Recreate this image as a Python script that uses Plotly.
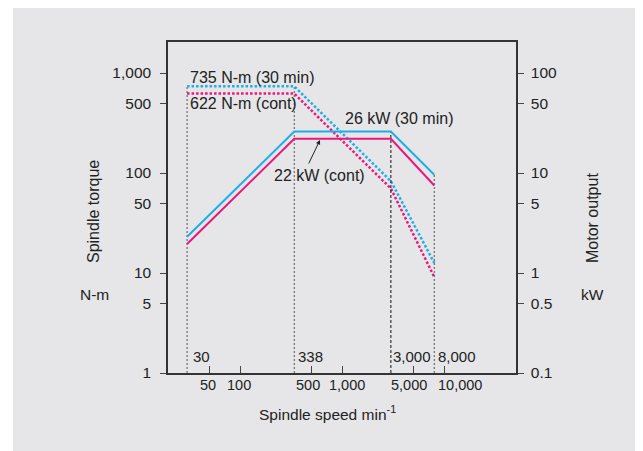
import math
import plotly.graph_objects as go

# ---- data ----
speed = [30, 338, 3000, 8000]
torque_30min = [735, 735, 83, 12.6]
torque_cont = [622, 622, 70, 9.1]
power_30min = [2.3, 26, 26, 9.6]
power_cont = [1.95, 22, 22, 7.5]

x_tickvals = [50, 100, 500, 1000, 5000, 10000]
x_ticktext = ["50", "100", "500", "1,000", "5,000", "10,000"]
yl_tickvals = [1, 5, 10, 50, 100, 500, 1000]
yl_ticktext = ["1", "5", "10", "50", "100", "500", "1,000"]
yr_tickvals = [0.1, 0.5, 1, 5, 10, 50, 100]
yr_ticktext = ["0.1", "0.5", "1", "5", "10", "50", "100"]
speed_labels = ["30", "338", "3,000", "8,000"]

# ---- layout geometry (page has an 8px body margin) ----
OFF = 8
W, H = 643 - OFF, 451 - OFF
L, R, T, B = 160, 127, 34, 78
PW, PH = W - L - R, H - T - B
FONT = "Liberation Sans, Arial, Helvetica, sans-serif"
TXT = "#222222"
CYAN = "#1eaee6"
MAG = "#e6197f"
BG = "#e6e6e8"


def px(x):  # page pixel -> paper
    return (x - OFF - L) / PW


def py(y):
    return (H - B - (y - OFF)) / PH


fig = go.Figure()

# vertical reference lines
fig.add_trace(go.Scatter(x=[speed[0], speed[0]], y=[1, torque_30min[0]], mode="lines",
                         line=dict(color="#555555", width=1, dash="2px,2px"), yaxis="y"))
fig.add_trace(go.Scatter(x=[speed[1], speed[1]], y=[1, torque_30min[1]], mode="lines",
                         line=dict(color="#555555", width=1, dash="2px,2px"), yaxis="y"))
fig.add_trace(go.Scatter(x=[speed[2], speed[2]], y=[0.1, power_30min[2]], mode="lines",
                         line=dict(color="#111111", width=1, dash="3px,2px"), yaxis="y2"))
fig.add_trace(go.Scatter(x=[speed[3], speed[3]], y=[0.1, power_30min[3]], mode="lines",
                         line=dict(color="#555555", width=1, dash="2px,2px"), yaxis="y2"))

# power (right axis)
fig.add_trace(go.Scatter(x=speed, y=power_cont, mode="lines",
                         line=dict(color=MAG, width=2), yaxis="y2"))
fig.add_trace(go.Scatter(x=speed, y=power_30min, mode="lines",
                         line=dict(color=CYAN, width=2), yaxis="y2"))

# torque (left axis)
fig.add_trace(go.Scatter(x=speed, y=torque_cont, mode="lines",
                         line=dict(color=MAG, width=2.5, dash="2.5px,2px"), yaxis="y"))
fig.add_trace(go.Scatter(x=speed, y=torque_30min, mode="lines",
                         line=dict(color=CYAN, width=2.5, dash="2.5px,2px"), yaxis="y"))

annotations = []


def ann(text, x, y, xanchor="left", textangle=0, size=16):
    annotations.append(dict(text=text, xref="paper", yref="paper", x=px(x), y=py(y),
                            xanchor=xanchor, yanchor="middle", showarrow=False,
                            textangle=textangle, font=dict(family=FONT, size=size, color=TXT)))


ann("735 N-m (30 min)", 188, 77)
ann("622 N-m (cont)", 188, 103)
ann("26 kW (30 min)", 343, 119)
ann("22 kW (cont)", 272, 175)
for lbl, xx in zip(speed_labels, [191, 296, 391, 436]):
    ann(lbl, xx, 356, size=15)

ann("Spindle torque", 94, 212, xanchor="center", textangle=-90)
ann("N-m", 94, 294, xanchor="center", size=15.5)
ann("Motor output", 592, 218, xanchor="center", textangle=-90)
ann("kW", 592, 294, xanchor="center", size=15.5)
ann("Spindle speed min<sup>-1</sup>", 327, 413, xanchor="center", size=15.5)

# x tick labels (placed at the axis scale positions, nudged as in the original)
x_label_shift = [-1.5, -1.5, -3.5, 4.5, -4.5, 16]
for v, t, s in zip(x_tickvals, x_ticktext, x_label_shift):
    annotations.append(dict(text=t, xref="x", yref="paper", x=math.log10(v), y=py(385),
                            xanchor="center", yanchor="middle", xshift=s, showarrow=False,
                            font=dict(family=FONT, size=14.5, color=TXT)))

# arrow for 22 kW
annotations.append(dict(xref="paper", yref="paper", x=px(320), y=py(140),
                        axref="pixel", ayref="pixel", ax=-12, ay=25, text="",
                        showarrow=True, arrowhead=2, arrowsize=0.9, arrowwidth=1,
                        arrowcolor="#222222"))

shapes = [
    dict(type="rect", xref="paper", yref="paper", x0=px(0), x1=px(13), y0=py(460), y1=py(0),
         fillcolor="white", line=dict(width=0), layer="above"),
]

axis_common = dict(type="log", showgrid=False, zeroline=False, showline=True,
                   linecolor="#333333", linewidth=1.5, ticks="outside", ticklen=6,
                   tickwidth=1.2, tickcolor="#444444",
                   tickfont=dict(family=FONT, size=15.5, color=TXT))

fig.update_layout(
    width=W, height=H,
    margin=dict(l=L, r=R, t=T, b=B, pad=0),
    paper_bgcolor=BG, plot_bgcolor=BG,
    showlegend=False,
    xaxis=dict(type="log", range=[1.29, 4.705], showgrid=False, zeroline=False,
               showline=True, mirror=True, linecolor="#333333", linewidth=1.5,
               ticks="inside", ticklen=7, tickwidth=1.2, tickcolor="#444444",
               tickvals=x_tickvals, showticklabels=False),
    yaxis=dict(range=[0, 3.31], tickvals=yl_tickvals, ticktext=yl_ticktext,
               ticklabelstandoff=6, **axis_common),
    yaxis2=dict(range=[-1, 2.31], tickvals=yr_tickvals, ticktext=yr_ticktext,
                overlaying="y", side="right", ticklabelstandoff=4, **axis_common),
    annotations=annotations,
    shapes=shapes,
)

fig.write_html("out.html")
